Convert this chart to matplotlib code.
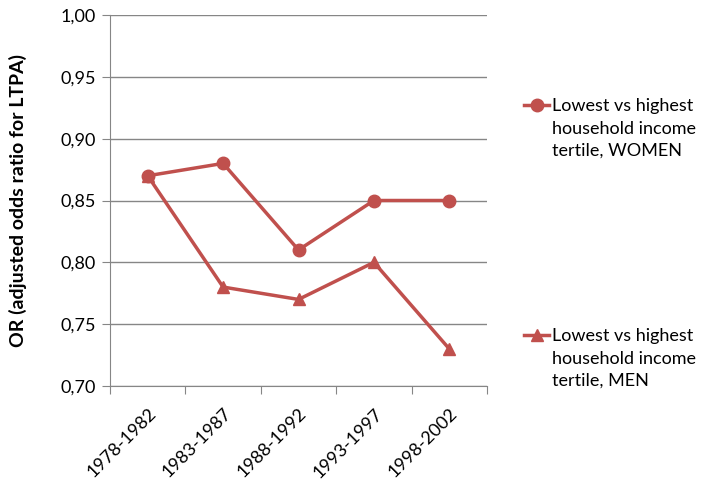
import matplotlib
matplotlib.use("Agg")
import matplotlib.pyplot as plt

periods = ["1978-1982", "1983-1987", "1988-1992", "1993-1997", "1998-2002"]
women = [0.87, 0.88, 0.81, 0.85, 0.85]
men = [0.87, 0.78, 0.77, 0.80, 0.73]
yticks = [0.70, 0.75, 0.80, 0.85, 0.90, 0.95, 1.00]
women_label = "Lowest vs highest\nhousehold income\ntertile, WOMEN"
men_label = "Lowest vs highest\nhousehold income\ntertile, MEN"
ylabel = "OR (adjusted odds ratio for LTPA)"

plt.rcParams['font.family'] = ['Lato', 'DejaVu Sans']
color = "#C0504D"
gray = "#868686"
fs = 13

fig = plt.figure(figsize=(7.09, 4.83), dpi=100)
ax = fig.add_axes([110/709, 1-386/483, 377/709, 371/483])

x = list(range(len(periods)))
l1, = ax.plot(x, women, color=color, lw=2.5, marker='o', ms=9, zorder=3)
l2, = ax.plot(x, men, color=color, lw=2.5, marker='^', ms=9, zorder=3)

ax.set_xlim(-0.5, len(periods)-0.5)
ax.set_ylim(0.70, 1.00)
ax.set_yticks(yticks)
ax.set_yticklabels([f"{v:.2f}".replace('.', ',') for v in yticks], fontsize=fs)
ax.yaxis.grid(True, color=gray, lw=1)
ax.set_axisbelow(True)

ax.set_xticks([i - 0.5 for i in range(len(periods)+1)])
ax.set_xticklabels([])
ax.set_xticks(x, minor=True)
ax.set_xticklabels(periods, minor=True, rotation=45, ha='right', rotation_mode='anchor', fontsize=fs)
ax.tick_params(axis='x', which='major', direction='out', length=6, color=gray)
ax.tick_params(axis='x', which='minor', length=0, pad=14)
ax.tick_params(axis='y', direction='out', length=6, color=gray, pad=4)

for s in ['top', 'right']:
    ax.spines[s].set_visible(False)
for s in ['left', 'bottom']:
    ax.spines[s].set_color(gray)

ax.set_ylabel(ylabel, fontsize=14, fontweight='bold')
ax.yaxis.set_label_coords(-0.22, 0.5)


def make_legend(line, label, ytop):
    leg = fig.legend([line], [label], loc='upper left', bbox_to_anchor=(524/709, 1-ytop/483),
                     frameon=False, fontsize=fs, handlelength=1.4, handletextpad=0.15,
                     borderaxespad=0, borderpad=0, handleheight=1.0)
    for t in leg.get_texts():
        t.set_linespacing(1.5)
    for col in leg._legend_handle_box.get_children():
        for item in col.get_children():
            item.align = 'top'
    return leg


make_legend(l1, women_label, 98)
make_legend(l2, men_label, 328)

fig.savefig("out.png", dpi=100)
